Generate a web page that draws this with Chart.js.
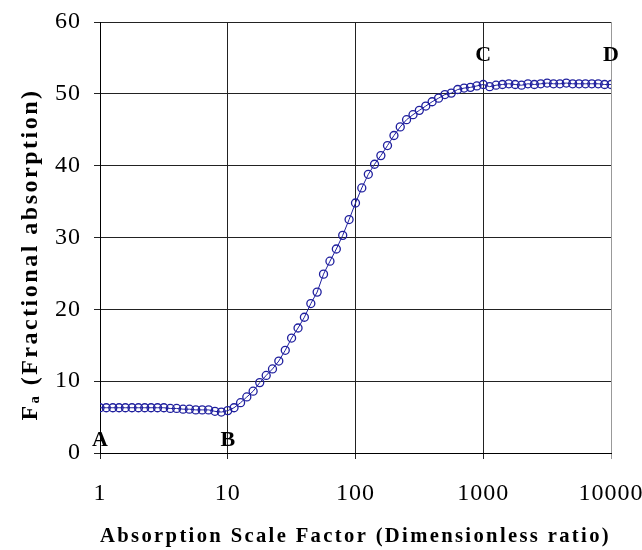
<!DOCTYPE html>
<html>
<head>
<meta charset="utf-8">
<script src="https://cdn.jsdelivr.net/npm/chart.js@4"></script>
<style>
  html, body { margin: 0; padding: 0; background: #fff; }
  #wrap { width: 642px; height: 550px; }
</style>
</head>
<body>
<div id="wrap"><canvas id="myChart" width="642" height="550"></canvas></div>
<script>
// scale factor values (x), 20 points per decade
const scaleFactors = [
  1, 1.12, 1.26, 1.41, 1.58, 1.78, 2.0, 2.24, 2.51, 2.82,
  3.16, 3.55, 3.98, 4.47, 5.01, 5.62, 6.31, 7.08, 7.94, 8.91,
  10, 11.2, 12.6, 14.1, 15.8, 17.8, 20.0, 22.4, 25.1, 28.2,
  31.6, 35.5, 39.8, 44.7, 50.1, 56.2, 63.1, 70.8, 79.4, 89.1,
  100, 112, 126, 141, 158, 178, 200, 224, 251, 282,
  316, 355, 398, 447, 501, 562, 631, 708, 794, 891,
  1000, 1122, 1259, 1413, 1585, 1778, 1995, 2239, 2512, 2818,
  3162, 3548, 3981, 4467, 5012, 5623, 6310, 7079, 7943, 8913,
  10000
];

// fractional absorption (y)
const absorption = [
  6.3, 6.3, 6.3, 6.3, 6.3, 6.3, 6.3, 6.3, 6.3, 6.3,
  6.3, 6.2, 6.2, 6.1, 6.1, 6.0, 6.0, 6.0, 5.8, 5.7,
  5.9, 6.3, 7.0, 7.8, 8.6, 9.8, 10.8, 11.7, 12.8, 14.3,
  16.0, 17.4, 18.9, 20.8, 22.4, 24.9, 26.7, 28.4, 30.3, 32.5,
  34.8, 36.9, 38.8, 40.2, 41.4, 42.8, 44.2, 45.4, 46.4, 47.1,
  47.7, 48.3, 48.9, 49.4, 49.9, 50.1, 50.6, 50.8, 50.9, 51.1,
  51.3, 51.0, 51.2, 51.3, 51.4, 51.3, 51.2, 51.4, 51.3, 51.4,
  51.5, 51.4, 51.4, 51.5, 51.4, 51.4, 51.4, 51.4, 51.4, 51.3,
  51.3
];

const xTickValues = [1, 10, 100, 1000, 10000];
const yTickValues = [0, 10, 20, 30, 40, 50, 60];

// point letters on the plot
const markNames = ["A", "B", "C", "D"];
const markX = [1, 10, 1000, 10000];
const markY = [1.7, 1.7, 55.3, 55.3];

const points = [];
for (let i = 0; i < scaleFactors.length; i++) {
  points.push({ x: scaleFactors[i], y: absorption[i] });
}

// the old chart has wide letter spacing on its text
// titles get 2.5px, tick labels (drawn after the datasets) get 1px
const spacingPlugin = {
  id: "spacing",
  beforeDraw(chart) {
    chart.ctx.letterSpacing = "2.5px";
  },
  afterDatasetsDraw(chart) {
    chart.ctx.letterSpacing = "1px";
  },
};

// draw the A B C D letters
const letterPlugin = {
  id: "letters",
  afterDatasetsDraw(chart) {
    const ctx = chart.ctx;
    const xs = chart.scales.x;
    const ys = chart.scales.y;
    ctx.save();
    ctx.letterSpacing = "0px";
    ctx.font = "bold 22px 'Liberation Serif'";
    ctx.fillStyle = "#000";
    ctx.textAlign = "center";
    ctx.textBaseline = "middle";
    for (let i = 0; i < markNames.length; i++) {
      ctx.fillText(markNames[i], xs.getPixelForValue(markX[i]), ys.getPixelForValue(markY[i]));
    }
    ctx.restore();
  },
};

const nbsp4 = "\u00a0\u00a0\u00a0\u00a0";

const config = {
  type: "scatter",
  data: {
    datasets: [
      {
        data: points,
        showLine: true,
        borderColor: "#1f1f9e",
        borderWidth: 1,
        pointRadius: 4,
        pointBorderWidth: 1.3,
        pointBackgroundColor: "rgba(255,255,255,0)",
        pointBorderColor: "#1f1f9e",
      },
    ],
  },
  plugins: [letterPlugin, spacingPlugin],
  options: {
    responsive: false,
    animation: false,
    layout: { padding: { left: 0, right: 31, top: 22, bottom: 0 } },
    plugins: {
      legend: { display: false },
      tooltip: { enabled: false },
    },
    scales: {
      x: {
        type: "logarithmic",
        min: 1,
        max: 10000,
        afterBuildTicks(scale) {
          scale.ticks = xTickValues.map((v) => ({ value: v }));
        },
        afterFit(scale) {
          scale.height = 97;
          scale.paddingLeft = 0;
          scale.paddingRight = 0;
        },
        ticks: {
          z: 1,
          color: "#000",
          padding: 20,
          maxRotation: 0,
          autoSkip: false,
          font: { family: "Liberation Serif", size: 24 },
          callback: (v) => String(v),
        },
        grid: {
          color: (c) => (c.index === xTickValues.length - 1 ? "#999" : "#222"),
          lineWidth: 1,
          tickLength: 6,
        },
        border: { color: "#000", width: 1 },
        title: {
          display: true,
          text: "Absorption Scale Factor (Dimensionless ratio)",
          color: "#000",
          font: { family: "Liberation Serif", size: 22, weight: "bold" },
          padding: { top: 14, bottom: 0 },
        },
      },
      y: {
        min: 0,
        max: 60,
        afterBuildTicks(scale) {
          scale.ticks = yTickValues.map((v) => ({ value: v }));
        },
        afterFit(scale) {
          scale.width = 100;
          scale.paddingTop = 0;
          scale.paddingBottom = 0;
        },
        ticks: {
          z: 1,
          color: "#000",
          padding: 13,
          font: { family: "Liberation Serif", size: 24 },
        },
        grid: {
          color: "#222",
          lineWidth: 1,
          tickLength: 6,
        },
        border: { color: "#000", width: 1 },
        title: {
          display: true,
          text: "F\u2090 (Fractional absorption)" + nbsp4,
          color: "#000",
          font: { family: "Liberation Serif", size: 24, weight: "bold" },
          padding: { top: 16, bottom: 0 },
        },
      },
    },
  },
};

const myChart = new Chart(document.getElementById("myChart"), config);
</script>
</body>
</html>
